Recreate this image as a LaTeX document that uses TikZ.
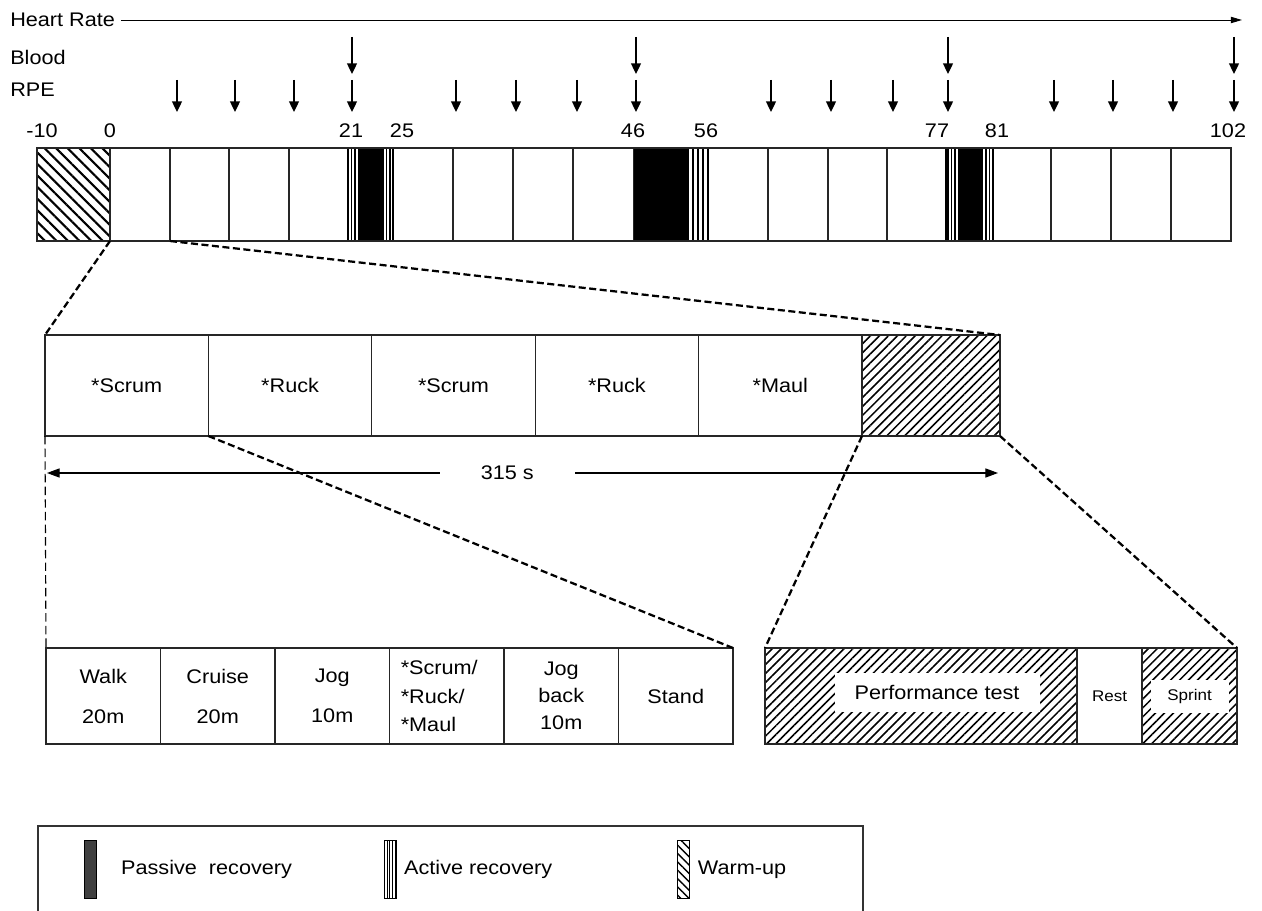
\documentclass[tikz,border=0pt]{standalone}
\usepackage{fontspec}
\setmainfont{Liberation Sans}[FakeStretch=1.1]
\usetikzlibrary{arrows.meta,patterns.meta,positioning}
\newcommand{\pxu}{0.025cm}
\tikzset{
>={Triangle[length=7.5pt,width=7pt]},
  txt/.style={font=\fontsize{14}{16.5}\selectfont, inner sep=0pt},
  small/.style={font=\fontsize{11}{13}\selectfont, inner sep=0pt},
  cell/.style={
    rectangle,
    draw=black!85, line width=0.9pt,
    anchor=north west,
    inner sep=0pt, outer sep=0pt,
    align=center},
  topcell/.style={cell, minimum height=93*\pxu},
  midcell/.style={cell, txt, minimum width=163.4*\pxu, minimum height=101*\pxu},
  lowcell/.style={cell, txt, minimum width=114.5*\pxu, minimum height=96*\pxu},
  warmup/.style={pattern={Lines[angle=-45,distance=5.8pt,line width=1.5pt]}},
  hatch/.style={pattern={Lines[angle=45,distance=4.5pt,line width=1.1pt]}},
  stripe/.style={draw=black, line width=1pt},
  markarrow/.style={->, line width=1pt},
  hrline/.style={-{Triangle[length=8pt,width=4.5pt]}, line width=0.7pt},
  dimline/.style={<->, line width=0.8pt, >={Triangle[length=9pt,width=6.5pt]}},
  zoomline/.style={line width=1.6pt, dash pattern=on 5pt off 2.5pt},
  guide/.style={line width=0.8pt, dash pattern=on 6pt off 3pt},
  swatch/.style={rectangle, draw=black, line width=0.6pt, anchor=north west,
    minimum width=12*\pxu, minimum height=58*\pxu, inner sep=0pt},
}

\begin{document}
\begin{tikzpicture}[x=0.025cm,y=-0.025cm]
\useasboundingbox (0,0) rectangle (1262,911);

    % sampling rows
    \node [txt, anchor=west](hr) at (10,20) {Heart Rate};
    \node [txt, anchor=west](blood) at (10,57) {Blood};
    \node [txt, anchor=west](rpe) at (10,90) {RPE};
    \coordinate (hrend) at (1242,20);
    \draw[hrline, shorten <=4pt] (hr.east) -- (hrend);
    \foreach \x in {352,636,948,1234}
        \draw[markarrow] (\x,37) -- (\x,74);
    \foreach \x in {177,235,294,352,456,516,577,636,771,831,893,948,1054,1113,1173,1234}
        \draw[markarrow] (\x,80) -- (\x,112);

    % minutes
    \foreach \t/\x [count=\i] in {-10/42,0/110,21/351,25/402,46/633,56/706,77/937,81/997,102/1228}
        \node [txt](min\i) at (\x,131) {\t};

    % whole session
    \node [topcell, warmup, minimum width=73*\pxu](warm) at (37,148) {};
    \foreach \a/\b [count=\i] in {110/170,170/229,229/289,289/348,393/453,453/513,513/573,573/634,%
                                  708/768,768/828,828/887,887/946,993/1051,1051/1111,1111/1171,1171/1231}
        \node [topcell, minimum width={(\b-\a)*\pxu}](c\i) at (\a,148) {};
    \foreach \a/\b in {358/383,634/688,958/982}
        \fill (\a,148) rectangle (\b,241);
    \foreach \x in {348,351.5,355,383,386.5,390,393,688,693,698,703,708,946,948,951.5,955,982,986,989.5,993}
        \draw[stripe] (\x,148) -- (\x,241);
    \draw[line width=0.9pt, draw=black!85] (warm.north west) rectangle (c16.south east);

    % one block
    \node [midcell](scrumA) at (45,335) {*Scrum};
    \node [midcell, right=0pt of scrumA](ruckA) {*Ruck};
    \node [midcell, right=0pt of ruckA](scrumB) {*Scrum};
    \node [midcell, right=0pt of scrumB](ruckB) {*Ruck};
    \node [midcell, right=0pt of ruckB](maul) {*Maul};
    \node [cell, hatch, minimum width=138*\pxu, minimum height=101*\pxu, right=0pt of maul](test) {};

    \coordinate (dimL) at (47,473);
    \coordinate (dimR) at (998,473);
    \draw[dimline] (dimL) -- node[txt, pos=0.484, fill=white, inner xsep=1.02cm, inner ysep=3pt](dur) {315 s} (dimR);

    % one cycle
    \node [lowcell](walk) at (46,648) {Walk\\[12pt]20m};
    \node [lowcell, right=0pt of walk](cruise) {Cruise\\[12pt]20m};
    \node [lowcell, right=0pt of cruise](jog) {Jog\\[12pt]10m};
    \node [lowcell, right=0pt of jog, text width=92*\pxu, align=left,
           font=\fontsize{14}{20.5}\selectfont](contact) {*Scrum/\\{}*Ruck/\\{}*Maul};
    \node [lowcell, right=0pt of contact, font=\fontsize{14}{19}\selectfont](jogback) {Jog\\back\\10m};
    \node [lowcell, right=0pt of jogback](stand) {Stand};

    % performance test
    \node [cell, hatch, minimum width=312*\pxu, minimum height=96*\pxu](perf) at (765,648) {};
    \node [cell, small, minimum width=65*\pxu, minimum height=96*\pxu, right=0pt of perf](rest) {Rest};
    \node [cell, hatch, minimum width=95*\pxu, minimum height=96*\pxu, right=0pt of rest](sprint) {};
    \node [txt, fill=white, minimum width=205*\pxu, minimum height=39*\pxu](perftext) at (937,692) {Performance test};
    \node [small, fill=white, minimum width=78*\pxu, minimum height=33*\pxu](sprinttext) at (sprint.center) {Sprint};

    % zoom lines
    \draw[zoomline] (warm.south east) -- (scrumA.north west);
    \draw[zoomline] (c1.south east) -- (test.north east);
    \draw[zoomline] (ruckA.south west) -- (stand.north east);
    \draw[zoomline] (test.south west) -- (perf.north west);
    \draw[zoomline] (test.south east) -- (sprint.north east);
    \draw[guide] (scrumA.south west) -- (walk.north west);

    % legend
    \draw[line width=0.9pt, draw=black!80] (38,930) |- (863,826) -- (863,930);
    \node [swatch, fill=black!75](passsw) at (84,840) {};
    \node [txt, right=0.6cm of passsw](passtxt) {Passive\ \ recovery};
    \node [swatch, pattern={Lines[angle=90,distance=1.8pt,line width=0.5pt]}](actsw) at (384,840) {};
    \node [txt, right=0.18cm of actsw](acttxt) {Active recovery};
    \node [swatch, pattern={Lines[angle=-45,distance=4.2pt,line width=1pt]}](warmsw) at (677,840) {};
    \node [txt, right=0.18cm of warmsw](warmtxt) {Warm-up};

\end{tikzpicture}
\end{document}
